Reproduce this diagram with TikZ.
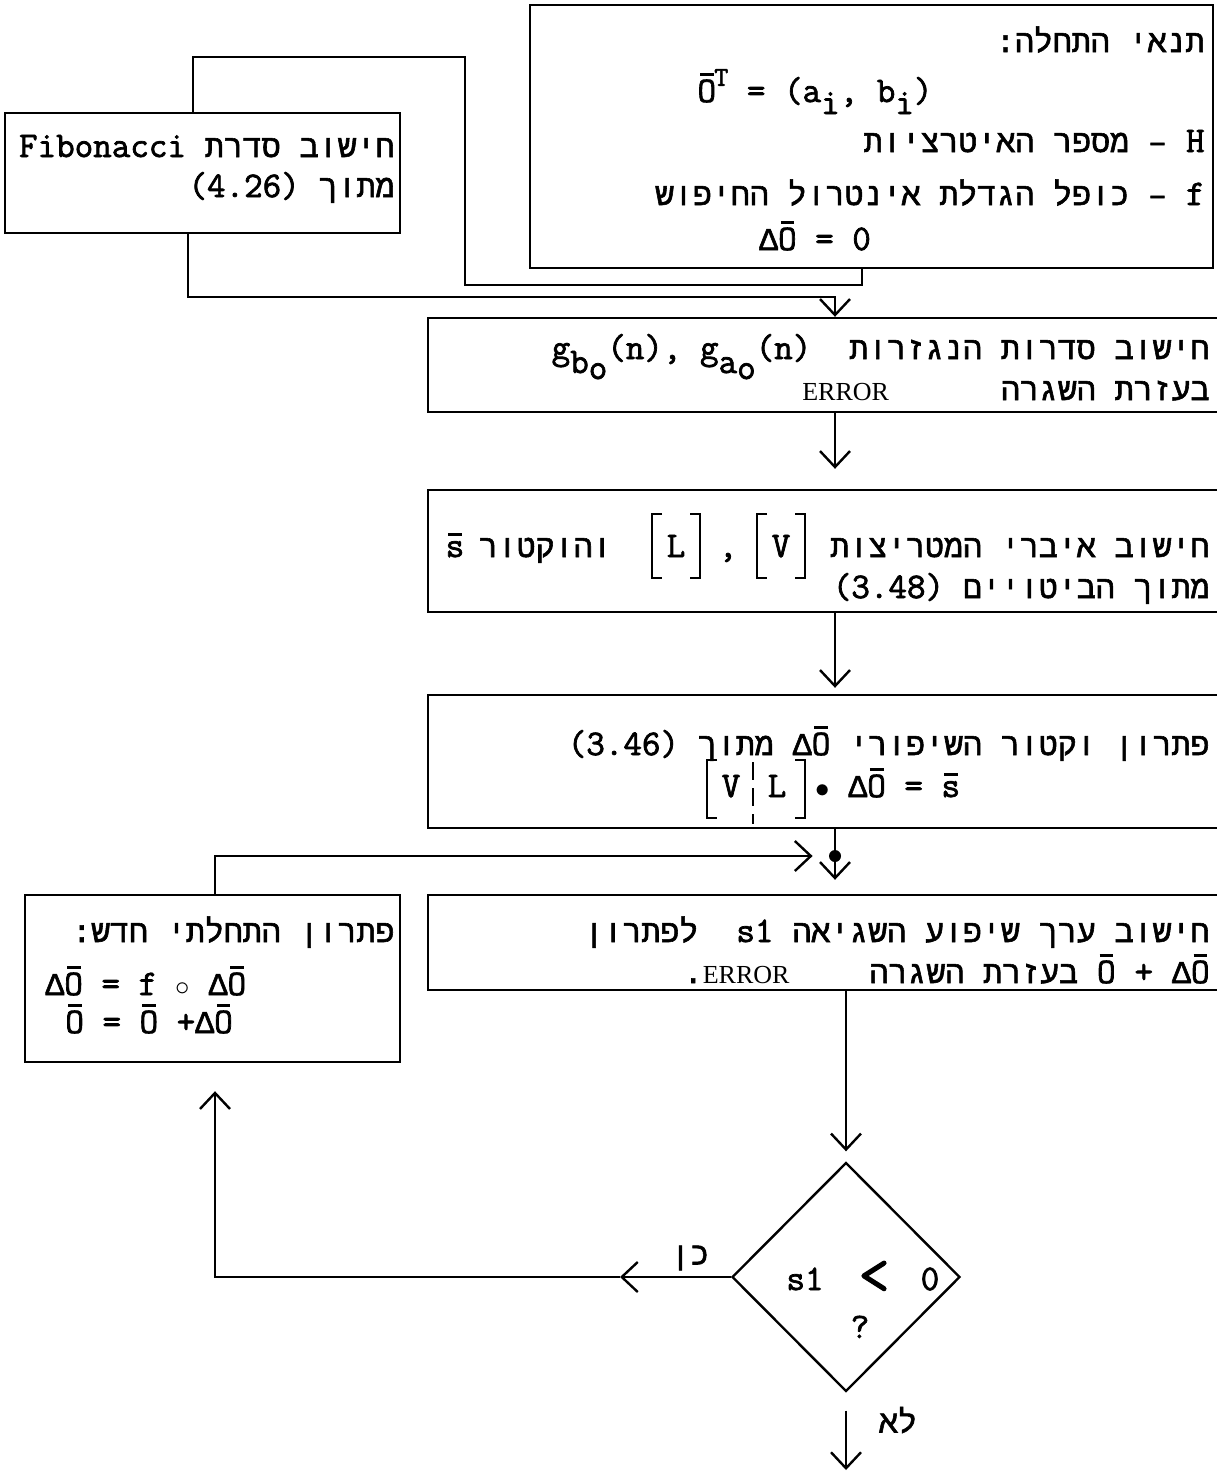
\documentclass[tikz,border=0pt]{standalone}
\usepackage{fontspec}
\setmainfont{Latin Modern Mono}[Scale=1.14,FakeBold=2]
\newfontfamily\heb{Liberation Mono}[Script=Hebrew,FakeBold=1.8]
\newfontfamily\serifrm{Liberation Serif}
\TeXXeTstate=1
\usetikzlibrary{arrows.meta,shapes.geometric,fit}
\newcommand\lt[1]{{\rmfamily #1}}
\newcommand\ovl[2][13pt]{\leavevmode\rlap{\hbox to 9.45pt{\hss\rule[#1]{6.8pt}{1.5pt}\hss}}#2}
\newcommand\vO{\ovl{{\rmfamily O}}}
\newcommand\dO{\beginL{\heb Δ}\vO\endL}
\newcommand\vs{\ovl[10.5pt]{{\rmfamily s}}}
\newcommand\gsub[1]{g\lower7pt\hbox{#1\lower3pt\hbox{o}}}
\newcommand\errw{{\serifrm\fontsize{13}{13}\selectfont ERROR}}
\begin{document}
\begin{tikzpicture}[x=0.5pt,y=-0.5pt,
  box/.style={draw, line width=1.2pt, inner sep=0pt},
  conn/.style={line width=1.2pt},
  tip/.style={-{Straight Barb[length=8pt,width=15pt]}},
  txt/.style={inner sep=0pt, font=\rmfamily\fontsize{15.8}{19}\selectfont},
  heb/.style={inner sep=0pt, font=\heb\fontsize{15.8}{19}\selectfont},
  brk/.style={line width=1.3pt}]
\useasboundingbox (0,0) rectangle (1216,1472);

% boxes
\node[box, fit={(530,5) (1213,268)}] (init) {};
\node[box, fit={(5,113) (400,233)}] (fib) {};
\node[box, fit={(428,318) (1225,412)}] (b2) {};
\node[box, fit={(428,490) (1225,612)}] (b3) {};
\node[box, fit={(428,695) (1225,828)}] (b4) {};
\node[box, fit={(428,895) (1225,990)}] (b5) {};
\node[box, fit={(25,895) (400,1062)}] (nb) {};
\node[draw, diamond, line width=1.2pt, minimum width=114pt, minimum height=114.5pt, inner sep=0pt] (dia) at (846,1277) {};
\node[circle, fill, inner sep=0pt, minimum size=6pt] (jn) at (835,856) {};

% helper coordinates
\coordinate (cx) at (835,0);
\coordinate (dx) at (846,0);
\coordinate (fx1) at (862,0);
\coordinate (lx) at (465,0);
\coordinate (ty) at (0,57);
\coordinate (fbx) at (193,0);
\coordinate (fbx2) at (188,0);
\coordinate (y285) at (0,285);
\coordinate (y297) at (0,297);
\coordinate (nx) at (215,0);
\coordinate (mx) at (620,0);
\coordinate (endp) at (846,1470);

% connectors
\draw[conn] (init.south -| fx1) -- (fx1 |- y285) -- (lx |- y285) -- (lx |- ty) -- (fbx |- ty) -- (fib.north -| fbx);
\draw[conn,tip] (fib.south -| fbx2) -- (fbx2 |- y297) -- (cx |- y297) -- (b2.north -| cx);
\draw[conn,tip,shorten >=10pt] (b2.south -| cx) -- (b3.north -| cx);
\draw[conn,tip,shorten >=3pt] (b3.south -| cx) -- (b4.north -| cx);
\draw[conn] (b4.south -| jn) -- (jn);
\draw[conn,tip,shorten >=7pt] (jn) -- (b5.north -| jn);
\draw[conn,tip,shorten >=8pt] (nb.north -| nx) |- (jn);
\draw[conn,tip,shorten >=5pt] (b5.south -| dx) -- (dia.north);
\draw[conn,tip] (dia.west) -- (mx |- dia.west);
\draw[conn,tip,shorten >=14pt] (mx |- dia.west) -| (nb.south -| nx);
\draw[conn,tip] ([yshift=-9pt]dia.south) -- (endp);

% init box text
\node[heb,anchor=base east] (i1) at (1205,52) {\beginR תנאי התחלה:\endR};
\node[txt,anchor=base] (i2) at (815,102) {\beginL\vO\kern-0.05em\raisebox{0.45em}{\fontsize{12}{12}\selectfont T} = (a\lower6pt\hbox{i}, b\lower6pt\hbox{i})\endL};
\node[heb,anchor=base east] (i3) at (1205,152) {\beginR\lt{H} – מספר האיטרציות\endR};
\node[heb,anchor=base east] (i4) at (1205,205) {\beginR\lt{f} – כופל הגדלת אינטרול החיפוש\endR};
\node[txt,anchor=base] (i5) at (815,250) {\dO{} = 0};

% fibonacci box
\node[heb,anchor=base east] (f1) at (395,157) {\beginR חישוב סדרת \beginL\lt{Fibonacci}\endL\endR};
\node[heb,anchor=base east] (f2) at (395,197) {\beginR מתוך \beginL\lt{(4.26)}\endL\endR};

% box 2
\node[heb,anchor=base east] (s1) at (1210,359) {\beginR חישוב סדרות הנגזרות\ \ \beginL\lt{\gsub{b}(n), \gsub{a}(n)}\endL\endR};
\node[heb,anchor=base east] (s2) at (1210,400) {\beginR בעזרת השגרה\hspace{56pt}\beginL\errw\endL\endR};

% box 3
\node[heb,anchor=base east] (m1) at (1210,557) {\beginR חישוב איברי המטריצות\endR};
\node[txt,anchor=base] (mV) at (781,557) {V};
\node[txt,anchor=base] (mc) at (728,557) {,};
\node[txt,anchor=base] (mL) at (676,557) {L};
\node[heb,anchor=base east] (mw) at (612,557) {\beginR והוקטור\endR};
\node[txt,anchor=base] (ms) at (455,557) {\vs};
\node[heb,anchor=base east] (m2) at (1210,598) {\beginR מתוך הביטויים \beginL\lt{(3.48)}\endL\endR};
\draw[brk] (662,514) -- (652,514) -- (652,578) -- (662,578);
\draw[brk] (690,514) -- (700,514) -- (700,578) -- (690,578);
\draw[brk] (767,514) -- (757,514) -- (757,578) -- (767,578);
\draw[brk] (795,514) -- (805,514) -- (805,578) -- (795,578);

% box 4
\node[heb,anchor=base east] (p1) at (1210,755) {\beginR פתרון וקטור השיפורי \dO{} מתוך \beginL\lt{(3.46)}\endL\endR};
\node[txt,anchor=base] (pV) at (731,797) {V};
\node[txt,anchor=base] (pL) at (777,797) {L};
\node[txt,anchor=base west] (p2) at (815,797) {\beginL$\bullet$ \dO{} = \vs\endL};
\draw[brk] (717,760) -- (707,760) -- (707,818) -- (717,818);
\draw[brk] (795,760) -- (805,760) -- (805,818) -- (795,818);
\draw[line width=1pt, dash pattern=on 9pt off 4pt] (753,762) -- (753,824);

% box 5
\node[heb,anchor=base east] (e1) at (1210,942) {\beginR חישוב ערך שיפוע השגיאה \lt{s1}\ \ לפתרון\endR};
\node[heb,anchor=base east] (e2) at (1210,983) {\beginR\beginL\vO{} \lt{+} \dO\endL{} בעזרת השגרה\hspace{40pt}\beginL\errw\endL.\endR};

% new initial box
\node[heb,anchor=base east] (n1) at (395,942) {\beginR פתרון התחלתי חדש:\endR};
\node[txt,anchor=base west] (n2) at (45,995) {\dO{} = f $\circ$ \dO};
\node[txt,anchor=base west] (n3) at (65,1033) {\vO{} = \vO{} +\dO};

% diamond text
\node[txt,anchor=base] (d1) at (805,1290) {s1};
\node[txt,anchor=base,font=\rmfamily\fontsize{26}{26}\selectfont] (d2) at (874,1294) {<};
\node[txt,anchor=base] (d3) at (930,1290) {0};
\node[txt,anchor=base] (d4) at (860,1338) {?};

% branch labels
\node[heb] (yes) at (690,1258) {\beginR כן\endR};
\node[heb] (no) at (898,1420) {\beginR לא\endR};
\end{tikzpicture}
\end{document}
